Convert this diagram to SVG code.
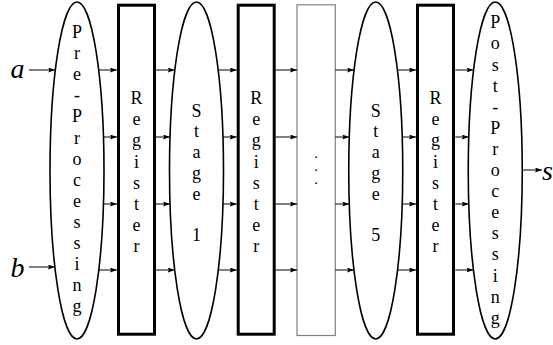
<svg xmlns="http://www.w3.org/2000/svg" width="553" height="345" viewBox="0 0 553 345">
  <style>
    .oval { fill: #fff; stroke: #000; stroke-width: 1.6; }
    .reg { fill: #fff; stroke: #000; stroke-width: 3; }
    .gap { fill: #fff; stroke: #808080; stroke-width: 1.2; }
    .wire { fill: none; stroke: #000; stroke-width: 1; marker-end: url(#tip); }
  </style>
  <defs>
    <marker id="tip" viewBox="0 0 7 5" refX="7" refY="2.5" markerWidth="7" markerHeight="5" markerUnits="userSpaceOnUse" orient="auto">
      <path d="M0,0 L7,2.5 L0,5 L1.2,2.5 z" fill="#000"/>
    </marker>
  </defs>

  <rect width="553" height="345" fill="#fff"/>

  <!-- input / output variables -->
  <g font-family="Liberation Serif, Times New Roman, serif" font-style="italic" font-size="28" fill="#000">
    <g id="input-a"><text x="17.5" y="78" text-anchor="middle">a</text></g>
    <g id="input-b"><text x="17.5" y="277" text-anchor="middle">b</text></g>
    <g id="output-s"><text x="542" y="180">s</text></g>
  </g>

  <g font-family="Liberation Serif, Times New Roman, serif" font-size="18" fill="#000" text-anchor="middle">
    <!-- pre-processing -->
    <g id="pre-processing">
      <ellipse class="oval" cx="77" cy="170.5" rx="27" ry="168.5"/>
      <text x="77" y="38">P</text>
      <text x="77" y="59.1">r</text>
      <text x="77" y="80.2">e</text>
      <text x="77" y="101.3">-</text>
      <text x="77" y="122.4">P</text>
      <text x="77" y="143.5">r</text>
      <text x="77" y="164.6">o</text>
      <text x="77" y="185.7">c</text>
      <text x="77" y="206.8">e</text>
      <text x="77" y="227.9">s</text>
      <text x="77" y="249">s</text>
      <text x="77" y="270.1">i</text>
      <text x="77" y="291.2">n</text>
      <text x="77" y="312.3">g</text>
    </g>

    <!-- register 1 -->
    <g id="register-1">
      <rect class="reg" x="118.5" y="5.2" width="36" height="329"/>
      <text x="136.5" y="104">R</text>
      <text x="136.5" y="125.2">e</text>
      <text x="136.5" y="146.4">g</text>
      <text x="136.5" y="167.6">i</text>
      <text x="136.5" y="188.8">s</text>
      <text x="136.5" y="210">t</text>
      <text x="136.5" y="231.2">e</text>
      <text x="136.5" y="252.4">r</text>
    </g>

    <!-- stage 1 -->
    <g id="stage-1">
      <ellipse class="oval" cx="196.5" cy="170.5" rx="27" ry="168.5"/>
      <text x="196.5" y="116.5">S</text>
      <text x="196.5" y="137.3">t</text>
      <text x="196.5" y="158.1">a</text>
      <text x="196.5" y="178.9">g</text>
      <text x="196.5" y="199.7">e</text>
      <text x="196.5" y="241.3">1</text>
    </g>

    <!-- register 2 -->
    <g id="register-2">
      <rect class="reg" x="238.2" y="5.2" width="36" height="329"/>
      <text x="256.2" y="104">R</text>
      <text x="256.2" y="125.2">e</text>
      <text x="256.2" y="146.4">g</text>
      <text x="256.2" y="167.6">i</text>
      <text x="256.2" y="188.8">s</text>
      <text x="256.2" y="210">t</text>
      <text x="256.2" y="231.2">e</text>
      <text x="256.2" y="252.4">r</text>
    </g>

    <!-- elided stages: vertical dots -->
    <g id="stages-elided">
      <rect class="gap" x="297" y="4.8" width="38.3" height="330.7"/>
      <g font-size="11" font-weight="bold">
        <text x="316" y="158">.</text>
        <text x="316" y="171">.</text>
        <text x="316" y="184">.</text>
      </g>
    </g>

    <!-- stage 5 -->
    <g id="stage-5">
      <ellipse class="oval" cx="375.75" cy="170.5" rx="27" ry="168.5"/>
      <text x="375.75" y="116.5">S</text>
      <text x="375.75" y="137.3">t</text>
      <text x="375.75" y="158.1">a</text>
      <text x="375.75" y="178.9">g</text>
      <text x="375.75" y="199.7">e</text>
      <text x="375.75" y="241.3">5</text>
    </g>

    <!-- register 3 -->
    <g id="register-3">
      <rect class="reg" x="417.5" y="5.2" width="36" height="329"/>
      <text x="435.5" y="104">R</text>
      <text x="435.5" y="125.2">e</text>
      <text x="435.5" y="146.4">g</text>
      <text x="435.5" y="167.6">i</text>
      <text x="435.5" y="188.8">s</text>
      <text x="435.5" y="210">t</text>
      <text x="435.5" y="231.2">e</text>
      <text x="435.5" y="252.4">r</text>
    </g>

    <!-- post-processing -->
    <g id="post-processing">
      <ellipse class="oval" cx="495.25" cy="170.5" rx="27" ry="168.5"/>
      <text x="495.25" y="28.3">P</text>
      <text x="495.25" y="49.4">o</text>
      <text x="495.25" y="70.5">s</text>
      <text x="495.25" y="91.6">t</text>
      <text x="495.25" y="112.7">-</text>
      <text x="495.25" y="133.8">P</text>
      <text x="495.25" y="154.9">r</text>
      <text x="495.25" y="176">o</text>
      <text x="495.25" y="197.1">c</text>
      <text x="495.25" y="218.2">e</text>
      <text x="495.25" y="239.3">s</text>
      <text x="495.25" y="260.4">s</text>
      <text x="495.25" y="281.5">i</text>
      <text x="495.25" y="302.6">n</text>
      <text x="495.25" y="323.7">g</text>
    </g>
  </g>

  <!-- connectors: four parallel lanes at y = 70, 137, 204, 270 -->
  <g id="connectors">
    <path class="wire" d="M29,70 H55.3"/>
    <path class="wire" d="M29,267 H54.9"/>

    <path class="wire" d="M98.7,70 H117"/>
    <path class="wire" d="M103.5,137 H117"/>
    <path class="wire" d="M103.5,204 H117"/>
    <path class="wire" d="M98.8,270 H117"/>

    <path class="wire" d="M156,70 H174.8"/>
    <path class="wire" d="M156,137 H170"/>
    <path class="wire" d="M156,204 H170"/>
    <path class="wire" d="M156,270 H174.7"/>

    <path class="wire" d="M218.2,70 H236.7"/>
    <path class="wire" d="M223,137 H236.7"/>
    <path class="wire" d="M223,204 H236.7"/>
    <path class="wire" d="M218.3,270 H236.7"/>

    <path class="wire" d="M275.7,70 H297"/>
    <path class="wire" d="M275.7,137 H297"/>
    <path class="wire" d="M275.7,204 H297"/>
    <path class="wire" d="M275.7,270 H297"/>

    <path class="wire" d="M335.3,70 H354.1"/>
    <path class="wire" d="M335.3,137 H349.3"/>
    <path class="wire" d="M335.3,204 H349.3"/>
    <path class="wire" d="M335.3,270 H354"/>

    <path class="wire" d="M397.4,70 H416"/>
    <path class="wire" d="M402.2,137 H416"/>
    <path class="wire" d="M402.2,204 H416"/>
    <path class="wire" d="M397.5,270 H416"/>

    <path class="wire" d="M455.3,70 H473.6"/>
    <path class="wire" d="M455.3,137 H468.8"/>
    <path class="wire" d="M455.3,204 H468.8"/>
    <path class="wire" d="M455.3,270 H473.5"/>

    <path class="wire" d="M522.2,170 H542"/>
  </g>
</svg>
